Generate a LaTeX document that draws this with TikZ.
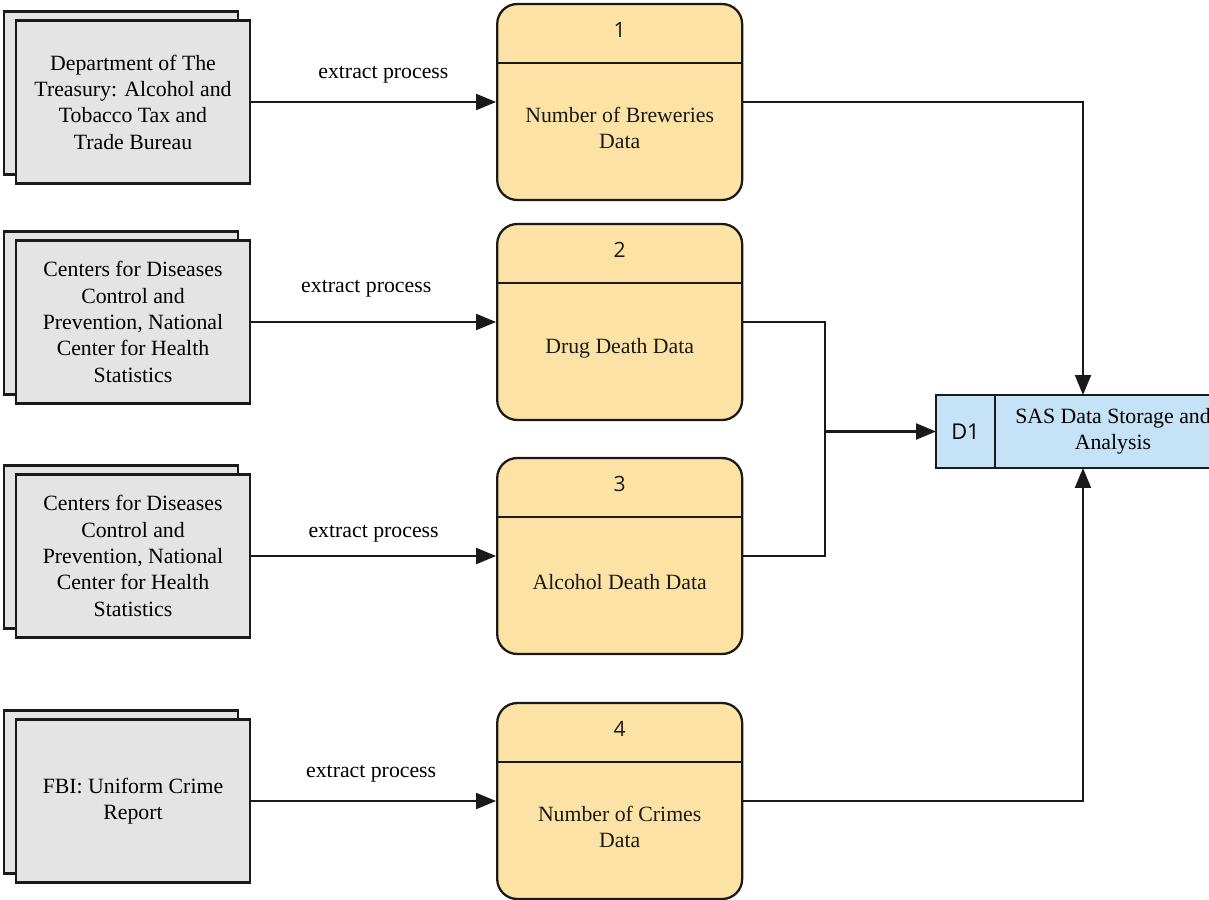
\documentclass[tikz,border=0pt]{standalone}
\usepackage{fontspec}
\setmainfont{Liberation Serif}
\newfontfamily\numfont{Open Sans}
\usepackage{xcolor}
\usetikzlibrary{positioning,shadows,arrows.meta}

\definecolor{entitygray}{HTML}{E4E4E4}
\definecolor{procyellow}{HTML}{FCE2A4}
\definecolor{storeblue}{HTML}{C6E2F7}
\definecolor{linedark}{HTML}{1A1A1A}

\begin{document}
\begin{tikzpicture}[
    x=0.02cm, y=-0.02cm,
    font=\fontsize{12.4}{15}\selectfont,
    entity/.style={rectangle, draw=linedark, line width=1.3pt, fill=entitygray, align=center,
        minimum width=4.68cm, minimum height=3.26cm,
        copy shadow={shadow xshift=-0.24cm, shadow yshift=0.18cm, fill=entitygray, draw=linedark, line width=1.3pt}},
    proc/.style={rectangle, draw=linedark, line width=1.3pt, fill=procyellow, rounded corners=0.4cm,
        minimum width=4.9cm, minimum height=3.92cm,
        path picture={\draw[linedark, line width=1.3pt] ([yshift=-1.18cm]path picture bounding box.north west) -- ([yshift=-1.18cm]path picture bounding box.north east);}},
    procnum/.style={font=\numfont\fontsize{12}{14}\selectfont, text=linedark},
    proctext/.style={align=center, text=linedark},
    store/.style={rectangle, draw=linedark, line width=1.3pt, fill=storeblue, outer sep=0pt, minimum height=1.46cm, align=center},
    flow/.style={-{Triangle[length=0.4cm, width=0.32cm]}, line width=1.2pt, draw=linedark},
    link/.style={line width=1.2pt, draw=linedark}
]
\useasboundingbox (0,0) rectangle (1209,899);
\clip (0,0) rectangle (1209,899);

% Sources
\node[entity] (treasury) at (133,102) {Department of The\\Treasury: Alcohol and\\Tobacco Tax and\\Trade Bureau};
\node[entity] (cdcdrug) at (133,322) {Centers for Diseases\\Control and\\Prevention, National\\Center for Health\\Statistics};
\node[entity] (cdcalc) at (133,556) {Centers for Diseases\\Control and\\Prevention, National\\Center for Health\\Statistics};
\node[entity] (fbi) at (133,801) {FBI: Uniform Crime\\Report};

% Processes
\node[proc, right=4.9cm of treasury] (breweries) {};
\node[procnum] (breweriesnum) at ([yshift=-0.54cm]breweries.north) {1};
\node[proctext] (breweriestxt) at ([yshift=-2.5cm]breweries.north) {Number of Breweries\\Data};

\node[proc, right=4.9cm of cdcdrug] (drugdeath) {};
\node[procnum] (drugdeathnum) at ([yshift=-0.54cm]drugdeath.north) {2};
\node[proctext] (drugdeathtxt) at ([yshift=-2.5cm]drugdeath.north) {Drug Death Data};

\node[proc, right=4.9cm of cdcalc] (alcdeath) {};
\node[procnum] (alcdeathnum) at ([yshift=-0.54cm]alcdeath.north) {3};
\node[proctext] (alcdeathtxt) at ([yshift=-2.5cm]alcdeath.north) {Alcohol Death Data};

\node[proc, right=4.9cm of fbi] (crimes) {};
\node[procnum] (crimesnum) at ([yshift=-0.54cm]crimes.north) {4};
\node[proctext] (crimestxt) at ([yshift=-2.5cm]crimes.north) {Number of Crimes\\Data};

% Data store
\node[store, minimum width=1.18cm] (dsid) at (965.5,431.5) {\numfont D1};
\node[store, minimum width=4.72cm, right=0pt of dsid] (sas) {SAS Data Storage and\\Analysis};

% Extract arrows
\draw[flow] (treasury.east) -- node[above=0.24cm, pos=0.54]{extract process} (breweries.west);
\draw[flow] (cdcdrug.east) -- node[above=0.36cm, pos=0.47]{extract process} (drugdeath.west);
\draw[flow] (cdcalc.east) -- node[above=0.14cm, pos=0.5]{extract process} (alcdeath.west);
\draw[flow] (fbi.east) -- node[above=0.24cm, pos=0.49]{extract process} (crimes.west);

% Into the store
\coordinate (join) at (825,431.5);
\draw[flow] (breweries.east) -| ([xshift=-0.6cm]sas.north);
\draw[link] (drugdeath.east) -| (join) |- (alcdeath.east);
\draw[flow] (join) -- (dsid.west);
\draw[flow] (crimes.east) -| ([xshift=-0.6cm]sas.south);

\end{tikzpicture}
\end{document}
